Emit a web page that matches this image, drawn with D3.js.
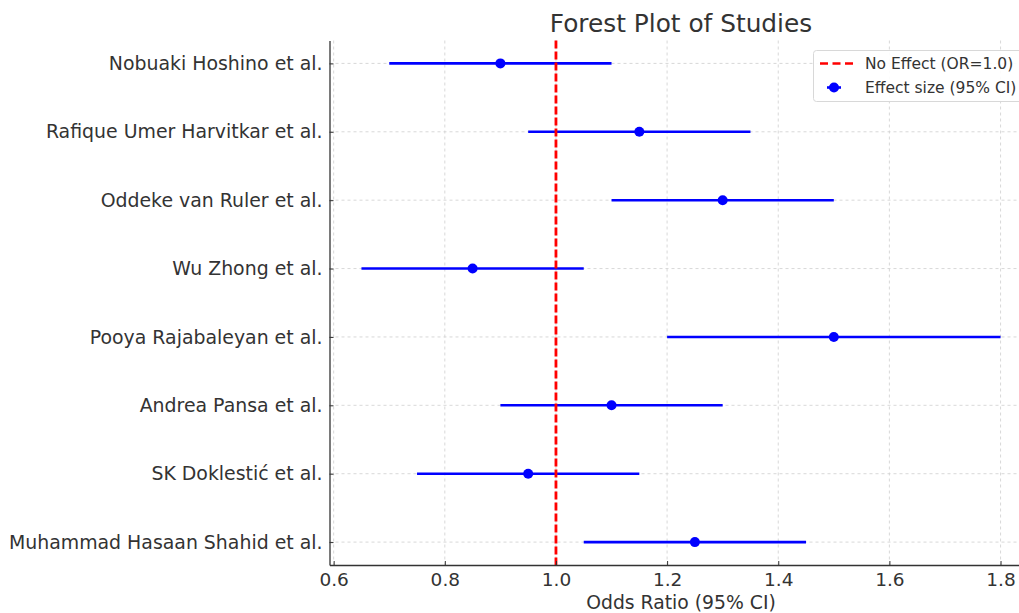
<!DOCTYPE html>
<html><head><meta charset="utf-8">
<script src="https://cdn.jsdelivr.net/npm/d3@7"></script>
<style>body{margin:0;background:#fff;} svg{display:block;font-family:"DejaVu Sans",sans-serif;}</style>
</head><body>
<svg id="c" width="1019" height="613"></svg>
<script>
const studies = ["Nobuaki Hoshino et al.","Rafique Umer Harvitkar et al.","Oddeke van Ruler et al.","Wu Zhong et al.","Pooya Rajabaleyan et al.","Andrea Pansa et al.","SK Doklestić et al.","Muhammad Hasaan Shahid et al."];
const effect = [0.9,1.15,1.3,0.85,1.5,1.1,0.95,1.25];
const lower = [0.7,0.95,1.1,0.65,1.2,0.9,0.75,1.05];
const upper = [1.1,1.35,1.5,1.05,1.8,1.3,1.15,1.45];
const xTicks = [0.6,0.8,1.0,1.2,1.4,1.6,1.8];
const nullValue = 1.0;

const FONT = "DejaVu Sans, sans-serif";
const TXT = "#333";
const svg = d3.select("#c");
const L=329.5, R=1032.5, T=40.5, B=565;
const x = d3.scaleLinear().domain([0.5925,1.8575]).range([L,R]);
const y = d3.scaleLinear().domain([-0.335, studies.length-1+0.335]).range([T,B]);

// grid
const g = svg.append("g");
g.selectAll(".vg").data(xTicks).join("line")
 .attr("x1",d=>x(d)).attr("x2",d=>x(d)).attr("y1",T).attr("y2",B)
 .attr("stroke","#d4d4d4").attr("stroke-width",0.9).attr("stroke-dasharray","3,3");
g.selectAll(".hg").data(studies).join("line")
 .attr("x1",L).attr("x2",R).attr("y1",(d,i)=>y(i)).attr("y2",(d,i)=>y(i))
 .attr("stroke","#d4d4d4").attr("stroke-width",0.9).attr("stroke-dasharray","3,3");

// CI lines
svg.selectAll(".ci").data(studies).join("line")
 .attr("x1",(d,i)=>x(lower[i])).attr("x2",(d,i)=>x(upper[i]))
 .attr("y1",(d,i)=>y(i)).attr("y2",(d,i)=>y(i))
 .attr("stroke","#0000ff").attr("stroke-width",2.6);
svg.selectAll(".pt").data(studies).join("circle")
 .attr("cx",(d,i)=>x(effect[i])).attr("cy",(d,i)=>y(i)).attr("r",5)
 .attr("fill","#0000ff");

// null line
svg.append("line").attr("x1",x(nullValue)).attr("x2",x(nullValue)).attr("y1",T).attr("y2",B)
 .attr("stroke","#ff0000").attr("stroke-width",2.8).attr("stroke-dasharray","8,3");

// axes
const xa = svg.append("g").attr("transform",`translate(0,${B})`)
 .call(d3.axisBottom(x).tickValues(xTicks).tickFormat(d3.format(".1f")).tickSize(-4).tickSizeOuter(0));
xa.attr("font-family",FONT);
xa.select(".domain").attr("stroke","#333").attr("stroke-width",1.3);
xa.selectAll(".tick line").attr("stroke","#333");
xa.selectAll("text").attr("font-size",18.5).attr("fill",TXT).attr("y",7).attr("dy","0.76em");

const ya = svg.append("g").attr("transform",`translate(${L},0)`)
 .call(d3.axisLeft(y).tickValues(d3.range(studies.length)).tickFormat(i=>studies[i]).tickSize(-4).tickSizeOuter(0));
ya.attr("font-family",FONT);
ya.select(".domain").attr("stroke","#333").attr("stroke-width",1.3);
ya.selectAll(".tick line").attr("stroke","#333");
ya.selectAll("text").attr("font-size",18.9).attr("fill",TXT).attr("x",-7);

// title and labels
svg.append("text").attr("x",(L+R)/2).attr("y",32).attr("text-anchor","middle")
 .attr("font-size",24.8).attr("fill",TXT).text("Forest Plot of Studies");
svg.append("text").attr("x",(L+R)/2).attr("y",609).attr("text-anchor","middle")
 .attr("font-size",18.8).attr("fill",TXT).text("Odds Ratio (95% CI)");

// legend
const lg = svg.append("g").attr("transform","translate(813,50)");
lg.append("rect").attr("x",0.5).attr("y",0.5).attr("width",215).attr("height",51).attr("rx",3)
 .attr("fill","#fff").attr("fill-opacity",0.9).attr("stroke","#d8d8d8");
lg.append("line").attr("x1",7).attr("x2",40).attr("y1",13.5).attr("y2",13.5)
 .attr("stroke","#ff0000").attr("stroke-width",2.6).attr("stroke-dasharray","8,4.5");
lg.append("text").attr("x",52).attr("y",19).attr("font-size",15.5).attr("fill",TXT).text("No Effect (OR=1.0)");
lg.append("line").attr("x1",14).attr("x2",28).attr("y1",37.5).attr("y2",37.5).attr("stroke","#0000ff").attr("stroke-width",2.6);
lg.append("circle").attr("cx",21).attr("cy",37.5).attr("r",5).attr("fill","#0000ff");
lg.append("text").attr("x",52).attr("y",43).attr("font-size",15.5).attr("fill",TXT).text("Effect size (95% CI)");
</script>
</body></html>
